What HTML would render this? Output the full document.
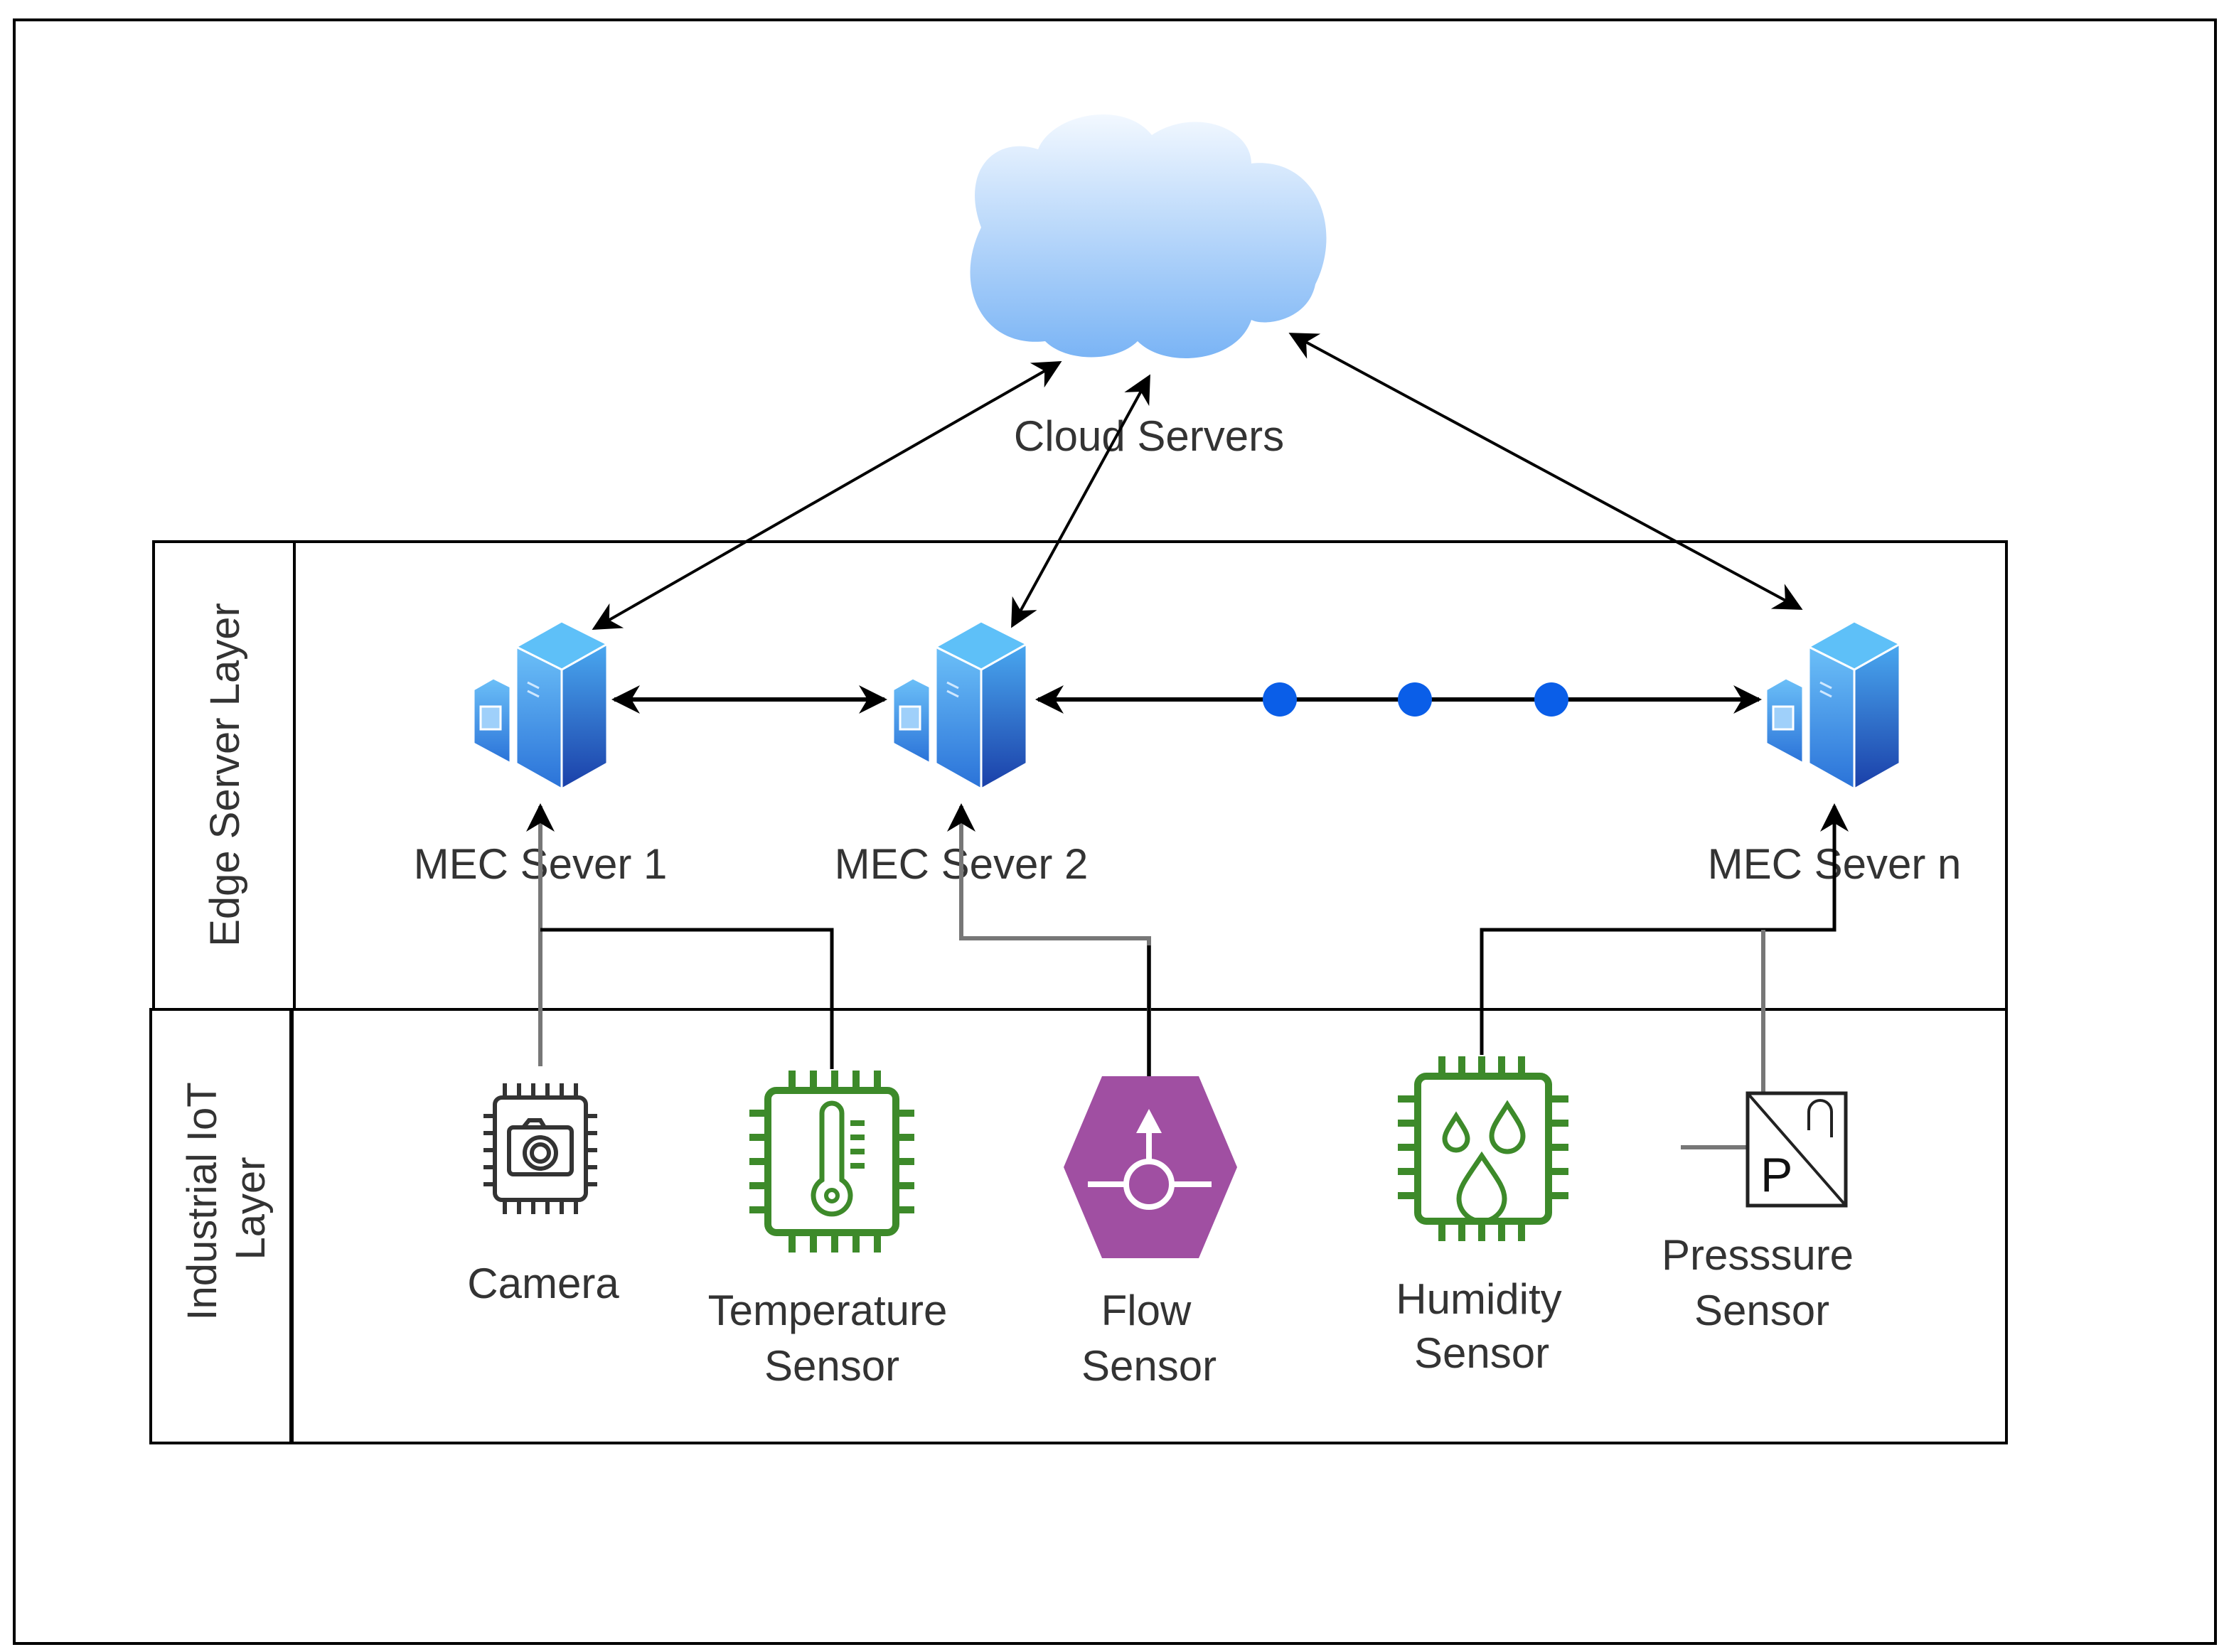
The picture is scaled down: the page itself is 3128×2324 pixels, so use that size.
<!DOCTYPE html>
<html><head><meta charset="utf-8"><style>
html,body{margin:0;padding:0;background:#fff;}
svg{display:block}
text{font-family:"Liberation Sans Narrow","Liberation Sans",sans-serif;fill:#333;}
</style></head><body>
<svg width="3128" height="2324" viewBox="0 0 1564 1162" xmlns="http://www.w3.org/2000/svg">
<defs>
<marker id="ah" viewBox="0 0 10 10" refX="9" refY="5" markerWidth="7" markerHeight="7" markerUnits="userSpaceOnUse" orient="auto-start-reverse">
<path d="M0,0 L10,5 L0,10 L3,5 z" fill="#000"/></marker>
<marker id="ah2" viewBox="0 0 10 10" refX="9" refY="5" markerWidth="20" markerHeight="20" markerUnits="userSpaceOnUse" orient="auto-start-reverse">
<path d="M0,0 L10,5 L0,10 L3,5 z" fill="#000"/></marker>
<linearGradient id="cg" x1="0" y1="0" x2="0" y2="1"><stop offset="0" stop-color="#f2f8ff"/><stop offset="1" stop-color="#7ab4f5"/></linearGradient>
<linearGradient id="sg" x1="0" y1="0" x2="0" y2="1"><stop offset="0" stop-color="#4aa8f0"/><stop offset="1" stop-color="#1a3fa8"/></linearGradient>
<linearGradient id="sg2" x1="0" y1="0" x2="0" y2="1"><stop offset="0" stop-color="#6cc0f8"/><stop offset="1" stop-color="#2a72d8"/></linearGradient>
<g id="srv">
<path d="M0,60 L14,52 L26,58 L26,112 L0,98 z" fill="url(#sg2)" stroke="#fff" stroke-width="1.5"/>
<rect x="5" y="72" width="14" height="16" fill="#9fd0fa" stroke="#fff" stroke-width="1.5"/>
<path d="M30,30 L62,12 L94,28 L94,112 L62,130 L30,112 z" fill="url(#sg2)"/>
<path d="M62,46 L94,28 L94,112 L62,130 z" fill="url(#sg)" stroke="#fff" stroke-width="1.5"/>
<path d="M30,30 L62,12 L94,28 L62,46 z" fill="#5ec0f8" stroke="#fff" stroke-width="1.5"/>
<path d="M30,30 L62,46 L62,130 L30,112 z" fill="url(#sg2)" stroke="#fff" stroke-width="1.5"/>
<line x1="38" y1="55" x2="46" y2="59" stroke="#cfe8ff" stroke-width="1.5"/>
<line x1="38" y1="61" x2="46" y2="65" stroke="#cfe8ff" stroke-width="1.5"/>
</g>
</defs>
<rect x="10" y="14" width="1548" height="1142" fill="none" stroke="#000" stroke-width="2"/>
<!-- layers -->
<rect x="108" y="381" width="1303" height="329" fill="none" stroke="#000" stroke-width="2"/>
<line x1="207" y1="381" x2="207" y2="710" stroke="#000" stroke-width="2"/>
<rect x="106" y="710" width="1305" height="305" fill="none" stroke="#000" stroke-width="2"/>
<line x1="205" y1="710" x2="205" y2="1015" stroke="#000" stroke-width="3"/>
<text transform="translate(168,545) rotate(-90)" text-anchor="middle" font-size="29">Edge Server Layer</text>
<text transform="translate(152,845) rotate(-90)" text-anchor="middle" font-size="29">Industrial IoT</text>
<text transform="translate(186,850) rotate(-90)" text-anchor="middle" font-size="29">Layer</text>
<!-- cloud -->
<path d="M735,240 C690,245 670,200 690,160 C675,120 700,95 730,105 C740,80 790,70 810,95 C840,75 880,90 880,115 C925,110 945,160 925,200 C920,225 890,230 880,225 C870,255 820,260 800,240 C785,255 750,255 735,240 z" fill="url(#cg)"/>
<text x="808" y="317" text-anchor="middle" font-size="30">Cloud Servers</text>
<!-- cloud arrows -->
<line x1="745" y1="255" x2="418" y2="442" stroke="#000" stroke-width="2" marker-start="url(#ah2)" marker-end="url(#ah2)"/>
<line x1="808" y1="265" x2="712" y2="440" stroke="#000" stroke-width="2" marker-start="url(#ah2)" marker-end="url(#ah2)"/>
<line x1="908" y1="235" x2="1266" y2="428" stroke="#000" stroke-width="2" marker-start="url(#ah2)" marker-end="url(#ah2)"/>
<!-- servers -->
<use href="#srv" x="333" y="425"/>
<use href="#srv" x="628" y="425"/>
<use href="#srv" x="1242" y="425"/>
<text x="380" y="618" text-anchor="middle" font-size="30">MEC Sever 1</text>
<text x="676" y="618" text-anchor="middle" font-size="30">MEC Sever 2</text>
<text x="1290" y="618" text-anchor="middle" font-size="30">MEC Sever n</text>
<line x1="432" y1="492" x2="622" y2="492" stroke="#000" stroke-width="3" marker-start="url(#ah2)" marker-end="url(#ah2)"/>
<line x1="730" y1="492" x2="1237" y2="492" stroke="#000" stroke-width="3" marker-start="url(#ah2)" marker-end="url(#ah2)"/>
<circle cx="900" cy="492" r="12" fill="#0a5ee8"/>
<circle cx="995" cy="492" r="12" fill="#0a5ee8"/>
<circle cx="1091" cy="492" r="12" fill="#0a5ee8"/>
<!-- connectors -->
<line x1="380" y1="750" x2="380" y2="567" stroke="#777" stroke-width="3" marker-end="url(#ah2)"/>
<polyline points="585,752 585,654 380,654" fill="none" stroke="#000" stroke-width="2.5"/>
<polyline points="808,757 808,660 676,660 676,567" fill="none" stroke="#777" stroke-width="3" marker-end="url(#ah2)"/>
<line x1="808" y1="665" x2="808" y2="757" stroke="#000" stroke-width="2.5"/>
<polyline points="1042,742 1042,654 1290,654 1290,567" fill="none" stroke="#000" stroke-width="2.5" marker-end="url(#ah2)"/>
<line x1="1240" y1="654" x2="1240" y2="768" stroke="#777" stroke-width="3"/>
<!-- camera chip -->
<g stroke="#333" stroke-width="3" fill="none">
<rect x="348" y="772" width="64" height="72" rx="5" fill="#fff"/>
<path d="M355,772v-10M365,772v-10M375,772v-10M385,772v-10M395,772v-10M405,772v-10M355,844v10M365,844v10M375,844v10M385,844v10M395,844v10M405,844v10M348,785h-8M348,797h-8M348,809h-8M348,821h-8M348,833h-8M412,785h8M412,797h8M412,809h8M412,821h8M412,833h8"/>
<rect x="358" y="793" width="44" height="33" rx="3"/>
<circle cx="380" cy="811" r="11"/><circle cx="380" cy="811" r="6"/>
<path d="M368,793 l4,-5 h8 l3,5"/>
</g>
<text x="382" y="913" text-anchor="middle" font-size="30">Camera</text>
<!-- temperature chip -->
<g stroke="#3d8a2a" stroke-width="5" fill="none">
<rect x="540" y="767" width="90" height="100" rx="6" fill="#fff"/>
<path d="M557,767v-14M572,767v-14M587,767v-14M602,767v-14M617,767v-14M557,867v14M572,867v14M587,867v14M602,867v14M617,867v14M540,783h-13M540,800h-13M540,817h-13M540,834h-13M540,851h-13M630,783h13M630,800h13M630,817h13M630,834h13M630,851h13"/>
<path d="M578,830 V783 a7,7 0 0 1 14,0 V830 a13,13 0 1 1 -14,0 z" stroke-width="3.5"/>
<circle cx="585" cy="841" r="4" stroke-width="3"/>
<path d="M598,790h10M598,800h10M598,810h10M598,820h10" stroke-width="4"/>
</g>
<text x="582" y="932" text-anchor="middle" font-size="30">Temperature</text>
<text x="585" y="971" text-anchor="middle" font-size="30">Sensor</text>
<!-- flow hexagon -->
<polygon points="775,757 843,757 870,821 843,885 775,885 748,821" fill="#a04fa2"/>
<g stroke="#fff" stroke-width="4" fill="none">
<line x1="765" y1="833" x2="852" y2="833"/>
<circle cx="808" cy="833" r="16" fill="#a04fa2"/>
<line x1="808" y1="817" x2="808" y2="795"/>
</g>
<polygon points="808,780 799,797 817,797" fill="#fff"/>
<text x="806" y="932" text-anchor="middle" font-size="30">Flow</text>
<text x="808" y="971" text-anchor="middle" font-size="30">Sensor</text>
<!-- humidity chip -->
<g stroke="#3d8a2a" stroke-width="5" fill="none">
<rect x="997" y="757" width="92" height="102" rx="6" fill="#fff"/>
<path d="M1014,757v-14M1028,757v-14M1042,757v-14M1056,757v-14M1070,757v-14M1014,859v14M1028,859v14M1042,859v14M1056,859v14M1070,859v14M997,773h-14M997,790h-14M997,807h-14M997,824h-14M997,841h-14M1089,773h14M1089,790h14M1089,807h14M1089,824h14M1089,841h14"/>
<path d="M1042,813 c-10,15 -16,22 -16,30 a16,16 0 0 0 32,0 c0,-8 -6,-15 -16,-30z" stroke-width="3.5"/>
<path d="M1024,785 c-5,8 -8,12 -8,16 a8,8 0 0 0 16,0 c0,-4 -3,-8 -8,-16z" stroke-width="3.5"/>
<path d="M1060,777 c-7,11 -11,16 -11,22 a11,11 0 0 0 22,0 c0,-6 -4,-11 -11,-22z" stroke-width="3.5"/>
</g>
<text x="1040" y="924" text-anchor="middle" font-size="30">Humidity</text>
<text x="1042" y="962" text-anchor="middle" font-size="30">Sensor</text>
<!-- pressure -->
<line x1="1182" y1="807" x2="1228" y2="807" stroke="#777" stroke-width="3"/>
<rect x="1229" y="769" width="69" height="79" fill="#fff" stroke="#222" stroke-width="2.5"/>
<line x1="1229" y1="769" x2="1298" y2="848" stroke="#222" stroke-width="2"/>
<path d="M1272,795 V782 a8,8 0 0 1 16,0 V800" fill="none" stroke="#222" stroke-width="2"/>
<text x="1238" y="838" font-size="34" style="fill:#111;font-family:'Liberation Sans',sans-serif">P</text>
<text x="1236" y="893" text-anchor="middle" font-size="30">Presssure</text>
<text x="1239" y="932" text-anchor="middle" font-size="30">Sensor</text>
</svg>
</body></html>
